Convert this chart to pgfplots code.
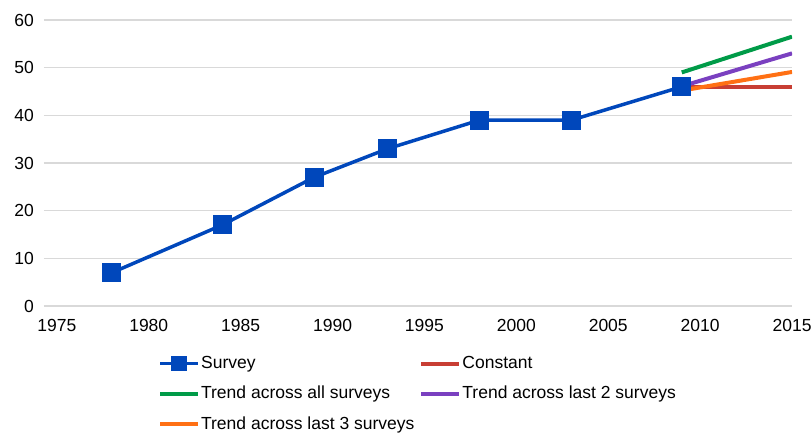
\documentclass[border=0pt]{standalone}
\usepackage{fontspec}
\setmainfont{Liberation Sans}
\usepackage{pgfplots}
\pgfplotsset{compat=1.18}
\definecolor{cblue}{RGB}{0,71,187}
\definecolor{cred}{RGB}{200,62,52}
\definecolor{cgreen}{RGB}{0,155,72}
\definecolor{cpurple}{RGB}{122,64,192}
\definecolor{corange}{RGB}{255,112,20}
\definecolor{cgrid}{RGB}{217,217,217}
\begin{document}
\fontsize{17.5}{21}\selectfont
\begin{tikzpicture}
\begin{axis}[
  scale only axis,
  width=748pt, height=286pt,
  xmin=1974.3, xmax=2015,
  ymin=0, ymax=60,
  xtick={1975,1980,...,2015},
  ytick={0,10,...,60},
  /pgf/number format/assume math mode=true,
  xticklabel style={/pgf/number format/1000 sep={}},
  axis line style={draw=none},
  tick style={draw=none},
  ymajorgrids,
  grid style={cgrid, line width=1.3pt},
  yticklabel style={xshift=-4pt},
  xticklabel style={yshift=-7pt},
  tick label style={font=\fontsize{17.5}{21}\selectfont},
  legend columns=2,
  legend cell align=left,
  legend style={draw=none, fill=none, inner sep=0pt,
    at={(0.1523,-0.168)}, anchor=north west,
    font=\fontsize{17.5}{21}\selectfont,
    nodes={inner xsep=1pt},
    row sep=11pt, column sep=0pt,
    /tikz/every odd column/.append style={column sep=0pt},
    /tikz/every even column/.append style={column sep=4pt}},
  legend image code/.code={
    \draw[#1, mark=none] (0pt,0pt) -- (38pt,0pt);
  },
]
\addplot[cblue, line width=3.5pt, mark=square*, mark size=9pt,
  mark options={solid, line width=0pt},
  legend image code/.code={
    \draw[cblue, line width=3.5pt] (0pt,0pt) -- (38pt,0pt);
    \fill[cblue] (13pt,-6pt) rectangle (25pt,6pt);
  }] coordinates {
  (1978,7) (1984,17) (1989,27) (1993,33) (1998,39) (2003,39) (2009,46)
};
\addlegendentry{Survey}
\addplot[cred, line width=4pt] coordinates {(2009,46) (2015,46)};
\addlegendentry{Constant}
\addplot[cgreen, line width=4pt] coordinates {(2009,49) (2015,56.5)};
\addlegendentry{Trend across all surveys}
\addplot[cpurple, line width=4pt] coordinates {(2009,46.1) (2015,53)};
\addlegendentry{Trend across last 2 surveys}
\addplot[corange, line width=4pt] coordinates {(2009,45.2) (2015,49.1)};
\addlegendentry{Trend across last 3 surveys}
\coordinate (BL) at (rel axis cs:-0.0588,-0.444);
\coordinate (TR) at (rel axis cs:1.0267,1.0699);
\end{axis}
\pgfresetboundingbox
\path (BL) rectangle (TR);
\end{tikzpicture}
\end{document}
